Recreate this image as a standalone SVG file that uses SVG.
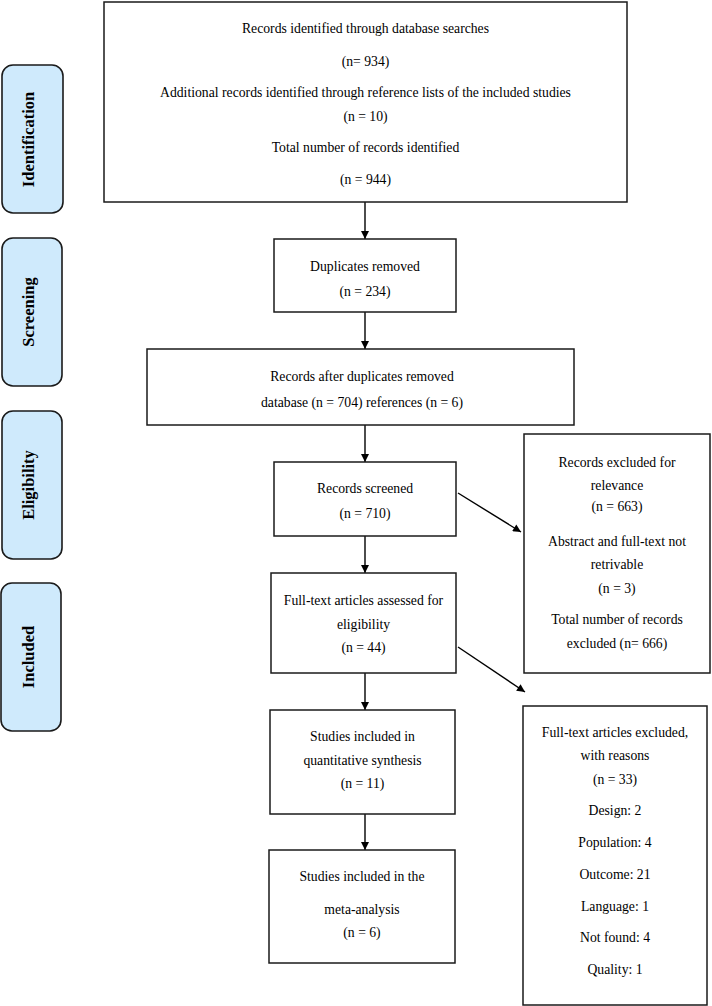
<svg xmlns="http://www.w3.org/2000/svg" width="712" height="1006" viewBox="0 0 712 1006">
<defs>
<style>
.box{fill:#fff;stroke:#1a1a1a;stroke-width:1.5}
.side{fill:#cfeafc;stroke:#1a1a1a;stroke-width:1.6}
.t{font-family:"Liberation Serif","Times New Roman",serif;font-size:13.7px;fill:#000;text-anchor:middle}
.s{font-family:"Liberation Serif","Times New Roman",serif;font-size:16.5px;font-weight:bold;fill:#000;text-anchor:middle}
.c{stroke:#000;stroke-width:1.4;fill:none;marker-end:url(#ah)}
</style>
<marker id="ah" viewBox="0 0 10 10" refX="10" refY="5" markerWidth="9" markerHeight="8" markerUnits="userSpaceOnUse" orient="auto">
<path d="M0,0 L10,5 L0,10 z" fill="#000"/>
</marker>
</defs>
<rect width="712" height="1006" fill="#fff"/>

<g id="side-identification">
<rect class="side" x="2" y="65" width="61" height="148" rx="11"/>
<text class="s" transform="translate(34,139.5) rotate(-90)">Identification</text>
</g>
<g id="side-screening">
<rect class="side" x="2" y="238" width="60" height="148" rx="11"/>
<text class="s" transform="translate(34,312) rotate(-90)">Screening</text>
</g>
<g id="side-eligibility">
<rect class="side" x="2" y="411" width="60" height="148" rx="11"/>
<text class="s" transform="translate(34,485) rotate(-90)">Eligibility</text>
</g>
<g id="side-included">
<rect class="side" x="1" y="583" width="60" height="148" rx="11"/>
<text class="s" transform="translate(33.5,657) rotate(-90)">Included</text>
</g>

<g id="connectors">
<line class="c" x1="365" y1="202" x2="365" y2="239"/>
<line class="c" x1="365" y1="312" x2="365" y2="349"/>
<line class="c" x1="365" y1="425" x2="365" y2="462"/>
<line class="c" x1="365" y1="536" x2="365" y2="573"/>
<line class="c" x1="365" y1="673" x2="365" y2="710"/>
<line class="c" x1="365" y1="814" x2="365" y2="850"/>
<line class="c" x1="458" y1="493" x2="521" y2="532"/>
<line class="c" x1="458" y1="647" x2="525" y2="692"/>
</g>

<g id="n-identified">
<rect class="box" x="104" y="2" width="523" height="200"/>
<text class="t" x="365.5" y="33">Records identified through database searches</text>
<text class="t" x="365.5" y="66">(n= 934)</text>
<text class="t" x="365.5" y="97">Additional records identified through reference lists of the included studies</text>
<text class="t" x="365.5" y="121">(n = 10)</text>
<text class="t" x="365.5" y="152">Total number of records identified</text>
<text class="t" x="365.5" y="184">(n = 944)</text>
</g>

<g id="n-duplicates">
<rect class="box" x="274" y="239" width="182" height="73"/>
<text class="t" x="365" y="271">Duplicates removed</text>
<text class="t" x="365" y="296">(n = 234)</text>
</g>

<g id="n-after">
<rect class="box" x="147" y="349" width="427" height="76"/>
<text class="t" x="362" y="381">Records after duplicates removed</text>
<text class="t" x="362" y="407">database (n = 704) references (n = 6)</text>
</g>

<g id="n-screened">
<rect class="box" x="274" y="462" width="182" height="74"/>
<text class="t" x="365" y="493">Records screened</text>
<text class="t" x="365" y="518">(n = 710)</text>
</g>

<g id="n-fulltext">
<rect class="box" x="271" y="573" width="185" height="100"/>
<text class="t" x="363.5" y="605">Full-text articles assessed for</text>
<text class="t" x="363.5" y="629">eligibility</text>
<text class="t" x="363.5" y="652">(n = 44)</text>
</g>

<g id="n-quant">
<rect class="box" x="270" y="710" width="185" height="104"/>
<text class="t" x="362.5" y="741">Studies included in</text>
<text class="t" x="362.5" y="765">quantitative synthesis</text>
<text class="t" x="362.5" y="788">(n = 11)</text>
</g>

<g id="n-meta">
<rect class="box" x="269" y="850" width="186" height="113"/>
<text class="t" x="362" y="881">Studies included in the</text>
<text class="t" x="362" y="914">meta-analysis</text>
<text class="t" x="362" y="937">(n = 6)</text>
</g>

<g id="n-excluded1">
<rect class="box" x="524" y="434" width="186" height="239"/>
<text class="t" x="617" y="467">Records excluded for</text>
<text class="t" x="617" y="490">relevance</text>
<text class="t" x="617" y="511">(n = 663)</text>
<text class="t" x="617" y="546">Abstract and full-text not</text>
<text class="t" x="617" y="569">retrivable</text>
<text class="t" x="617" y="593">(n = 3)</text>
<text class="t" x="617" y="624">Total number of records</text>
<text class="t" x="617" y="648">excluded (n= 666)</text>
</g>

<g id="n-excluded2">
<rect class="box" x="523" y="706" width="184" height="299"/>
<text class="t" x="615" y="737">Full-text articles excluded,</text>
<text class="t" x="615" y="760">with reasons</text>
<text class="t" x="615" y="784">(n = 33)</text>
<text class="t" x="615" y="815">Design: 2</text>
<text class="t" x="615" y="847">Population: 4</text>
<text class="t" x="615" y="879">Outcome: 21</text>
<text class="t" x="615" y="911">Language: 1</text>
<text class="t" x="615" y="942">Not found: 4</text>
<text class="t" x="615" y="974">Quality: 1</text>
</g>
</svg>
